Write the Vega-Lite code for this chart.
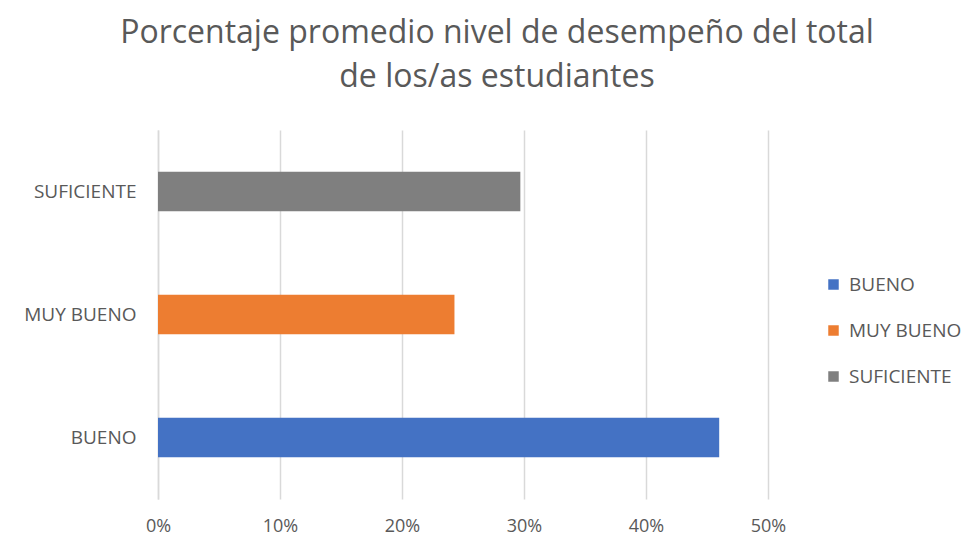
{
  "$schema": "https://vega.github.io/schema/vega-lite/v6.json",
  "width": 610,
  "height": 369,
  "autosize": {"type": "none"},
  "padding": {"left": 158, "top": 130, "right": 209, "bottom": 38},
  "background": "white",
  "title": {
    "text": ["Porcentaje promedio nivel de desempeño del total", "de los/as estudiantes"],
    "font": "Open Sans",
    "fontSize": 32,
    "fontWeight": "normal",
    "color": "#595959",
    "anchor": "middle",
    "dx": 34,
    "offset": 36,
    "lineHeight": 44
  },
  "data": {
    "values": [
      {"nivel": "BUENO", "pct": 0.46},
      {"nivel": "MUY BUENO", "pct": 0.243},
      {"nivel": "SUFICIENTE", "pct": 0.297}
    ]
  },
  "mark": {"type": "bar"},
  "encoding": {
    "y": {
      "field": "nivel",
      "type": "nominal",
      "sort": ["SUFICIENTE", "MUY BUENO", "BUENO"],
      "scale": {"paddingInner": 0.68, "paddingOuter": 0.34},
      "axis": {
        "title": null,
        "ticks": false,
        "domainColor": "#d9d9d9",
        "domainWidth": 1.5,
        "labelFont": "Open Sans",
        "labelFontSize": 19,
        "labelColor": "#595959",
        "labelPadding": 22
      }
    },
    "x": {
      "field": "pct",
      "type": "quantitative",
      "scale": {"domain": [0, 0.5], "nice": false},
      "axis": {
        "title": null,
        "format": ".0%",
        "values": [0, 0.1, 0.2, 0.3, 0.4, 0.5],
        "domain": false,
        "ticks": false,
        "grid": true,
        "gridColor": "#d9d9d9",
        "gridWidth": 1.5,
        "labelFlush": false,
        "labelFont": "Open Sans",
        "labelFontSize": 18,
        "labelColor": "#595959",
        "labelPadding": 18
      }
    },
    "color": {
      "field": "nivel",
      "type": "nominal",
      "scale": {
        "domain": ["BUENO", "MUY BUENO", "SUFICIENTE"],
        "range": ["#4472C4", "#ED7D31", "#7F7F7F"]
      },
      "legend": {
        "title": null,
        "orient": "none",
        "legendX": 666,
        "legendY": 145,
        "symbolType": "square",
        "symbolSize": 110,
        "symbolStrokeWidth": 0,
        "labelFont": "Open Sans",
        "labelFontSize": 19,
        "labelColor": "#595959",
        "rowPadding": 26,
        "labelOffset": 6
      }
    }
  },
  "config": {"view": {"stroke": null}}
}
